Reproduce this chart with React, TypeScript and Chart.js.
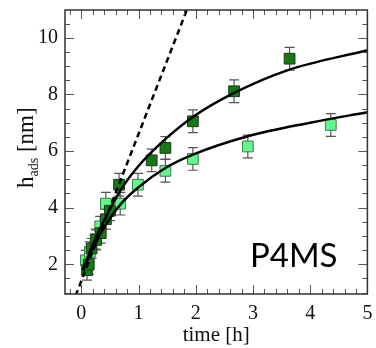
import React, { useEffect, useRef } from "react";
import { Chart, registerables } from "chart.js";
Chart.register(...registerables);

// dark green series
const darkTime = [0.1, 0.13, 0.18, 0.26, 0.34, 0.43, 0.5, 0.66, 1.23, 1.47, 1.95, 2.67, 3.64];
const darkH = [1.79, 1.99, 2.56, 2.86, 3.1, 3.59, 3.89, 4.81, 5.67, 6.11, 7.05, 8.11, 9.26];
const darkErr = [0.35, 0.35, 0.35, 0.35, 0.35, 0.35, 0.35, 0.4, 0.4, 0.4, 0.4, 0.4, 0.4];
// light green series
const lightTime = [0.08, 0.15, 0.25, 0.33, 0.43, 0.68, 0.99, 1.47, 1.95, 2.91, 4.36];
const lightH = [2.14, 2.44, 2.89, 3.34, 4.14, 4.14, 4.81, 5.3, 5.72, 6.16, 6.92];
const lightErr = [0.35, 0.35, 0.35, 0.35, 0.4, 0.4, 0.4, 0.4, 0.4, 0.4, 0.4];
// fitted curves
const darkFitTime = [0.03, 0.2, 0.4, 0.7, 1.0, 1.42, 1.95, 2.67, 3.6, 5.0];
const darkFitH = [1.8, 2.7, 3.55, 4.66, 5.47, 6.33, 7.2, 8.05, 8.85, 9.56];
const lightFitTime = [0.03, 0.2, 0.4, 0.7, 1.0, 1.47, 1.95, 2.91, 4.0, 5.0];
const lightFitH = [1.8, 2.55, 3.3, 4.15, 4.72, 5.4, 5.87, 6.52, 7.0, 7.37];
// dashed linear line
const dashTime = [-0.1, 1.95];
const dashH = [0.89, 11.53];
// ticks
const xTickValues = [0, 1, 2, 3, 4, 5];
const yTickValues = [2, 4, 6, 8, 10];

const pts = (xs: number[], ys: number[]) => xs.map((x, i) => ({ x, y: ys[i] }));

const errorBars = {
  id: "errorBars",
  beforeDatasetsDraw(chart: any) {
    const { ctx, scales } = chart;
    const xs = scales.x, ys = scales.y;
    ctx.save();
    ctx.strokeStyle = "#555";
    ctx.lineWidth = 1.2;
    const draw = (t: number[], h: number[], e: number[]) => {
      t.forEach((tv, i) => {
        const px = xs.getPixelForValue(tv);
        const top = ys.getPixelForValue(h[i] + e[i]);
        const bot = ys.getPixelForValue(h[i] - e[i]);
        ctx.beginPath();
        ctx.moveTo(px, top); ctx.lineTo(px, bot);
        ctx.moveTo(px - 5, top); ctx.lineTo(px + 5, top);
        ctx.moveTo(px - 5, bot); ctx.lineTo(px + 5, bot);
        ctx.stroke();
      });
    };
    draw(lightTime, lightH, lightErr);
    draw(darkTime, darkH, darkErr);
    ctx.restore();
  },
};

const frameTicks = {
  id: "frameTicks",
  afterDraw(chart: any) {
    const { ctx, chartArea: a, scales } = chart;
    const xs = scales.x, ys = scales.y;
    ctx.save();
    ctx.strokeStyle = "#555";
    ctx.lineWidth = 1;
    ctx.beginPath();
    for (let k = -1; k <= 25; k++) {
      const v = k * 0.2;
      const px = Math.round(xs.getPixelForValue(v)) + 0.5;
      if (px < a.left || px > a.right) continue;
      const len = k % 5 === 0 ? 9 : 5;
      ctx.moveTo(px, a.bottom); ctx.lineTo(px, a.bottom - len);
      ctx.moveTo(px, a.top); ctx.lineTo(px, a.top + len);
    }
    for (let k = 2; k <= 22; k++) {
      const v = k * 0.5;
      const py = Math.round(ys.getPixelForValue(v)) + 0.5;
      if (py < a.top || py > a.bottom) continue;
      const len = k % 4 === 0 ? 9 : 5;
      ctx.moveTo(a.left, py); ctx.lineTo(a.left + len, py);
      ctx.moveTo(a.right, py); ctx.lineTo(a.right - len, py);
    }
    ctx.stroke();
    ctx.strokeStyle = "#333";
    ctx.lineWidth = 1.5;
    ctx.strokeRect(a.left, a.top, a.right - a.left, a.bottom - a.top);

    // y-axis title with subscript
    ctx.fillStyle = "#111";
    ctx.translate(33, 188);
    ctx.rotate(-Math.PI / 2);
    ctx.textBaseline = "alphabetic";
    ctx.textAlign = "left";
    ctx.font = '23px "Liberation Serif"';
    ctx.fillText("h", 0, 0);
    let w = ctx.measureText("h").width;
    ctx.font = '14px "Liberation Serif"';
    ctx.fillText("ads", w, 5);
    w += ctx.measureText("ads").width;
    ctx.font = '23px "Liberation Serif"';
    ctx.fillText(" [nm]", w, 0);
    ctx.setTransform(1, 0, 0, 1, 0, 0);

    // sample label
    ctx.font = '33px "Lato"';
    ctx.fillStyle = "#000";
    ctx.fillText("P4MS", a.left + 185, a.bottom - 27);
    ctx.restore();
  },
};

export default function App() {
  const ref = useRef<HTMLCanvasElement>(null);
  useEffect(() => {
    if (!ref.current) return;
    const serif = '"Liberation Serif", "Times New Roman", serif';
    const chart = new Chart(ref.current, {
      type: "scatter",
      data: {
        datasets: [
          {
            type: "line",
            data: pts(dashTime, dashH),
            borderColor: "#000",
            borderWidth: 2.5,
            borderDash: [6, 4],
            pointRadius: 0,
            showLine: true,
            order: 0,
          },
          {
            type: "line",
            data: pts(darkFitTime, darkFitH),
            borderColor: "#000",
            borderWidth: 2.5,
            pointRadius: 0,
            cubicInterpolationMode: "monotone",
            showLine: true,
            order: 0,
          },
          {
            type: "line",
            data: pts(lightFitTime, lightFitH),
            borderColor: "#000",
            borderWidth: 2.5,
            pointRadius: 0,
            cubicInterpolationMode: "monotone",
            showLine: true,
            order: 0,
          },
          {
            data: pts(darkTime, darkH),
            pointStyle: "rect",
            pointRadius: 7.6,
            backgroundColor: "#137a13",
            borderColor: "#1d3a1d",
            borderWidth: 1,
            order: 1,
          },
          {
            data: pts(lightTime, lightH),
            pointStyle: "rect",
            pointRadius: 7.6,
            backgroundColor: "#62f78d",
            borderColor: "#3f7a4a",
            borderWidth: 1,
            order: 2,
          },
        ],
      },
      options: {
        animation: false,
        responsive: false,
        devicePixelRatio: 1,
        layout: { padding: { top: 10, right: 5, left: 0, bottom: 0 } },
        plugins: { legend: { display: false }, tooltip: { enabled: false } },
        scales: {
          x: {
            type: "linear",
            min: -0.285,
            max: 5,
            afterBuildTicks: (s: any) => { s.ticks = xTickValues.map((v) => ({ value: v })); },
            afterFit: (s: any) => { s.height = 54; s.paddingLeft = 0; s.paddingRight = 0; },
            grid: { display: false, drawTicks: false },
            border: { display: false },
            ticks: { font: { family: serif, size: 20 }, color: "#111", padding: 8, maxRotation: 0, autoSkip: false },
            title: { display: true, text: "time [h]", font: { family: serif, size: 21 }, color: "#111", padding: 0 },
          },
          y: {
            type: "linear",
            min: 0.95,
            max: 10.98,
            afterBuildTicks: (s: any) => { s.ticks = yTickValues.map((v) => ({ value: v })); },
            afterFit: (s: any) => { s.width = 65; s.paddingTop = 0; s.paddingBottom = 0; },
            grid: { display: false, drawTicks: false },
            border: { display: false },
            ticks: { font: { family: serif, size: 20 }, color: "#111", padding: 7, autoSkip: false },
          },
        },
      },
      plugins: [errorBars, frameTicks],
    } as any);
    return () => chart.destroy();
  }, []);
  return (
    <div style={{ position: "fixed", left: 0, top: 0, width: 376, height: 348, background: "#fff" }}>
      <canvas ref={ref} width={376} height={348} />
    </div>
  );
}
